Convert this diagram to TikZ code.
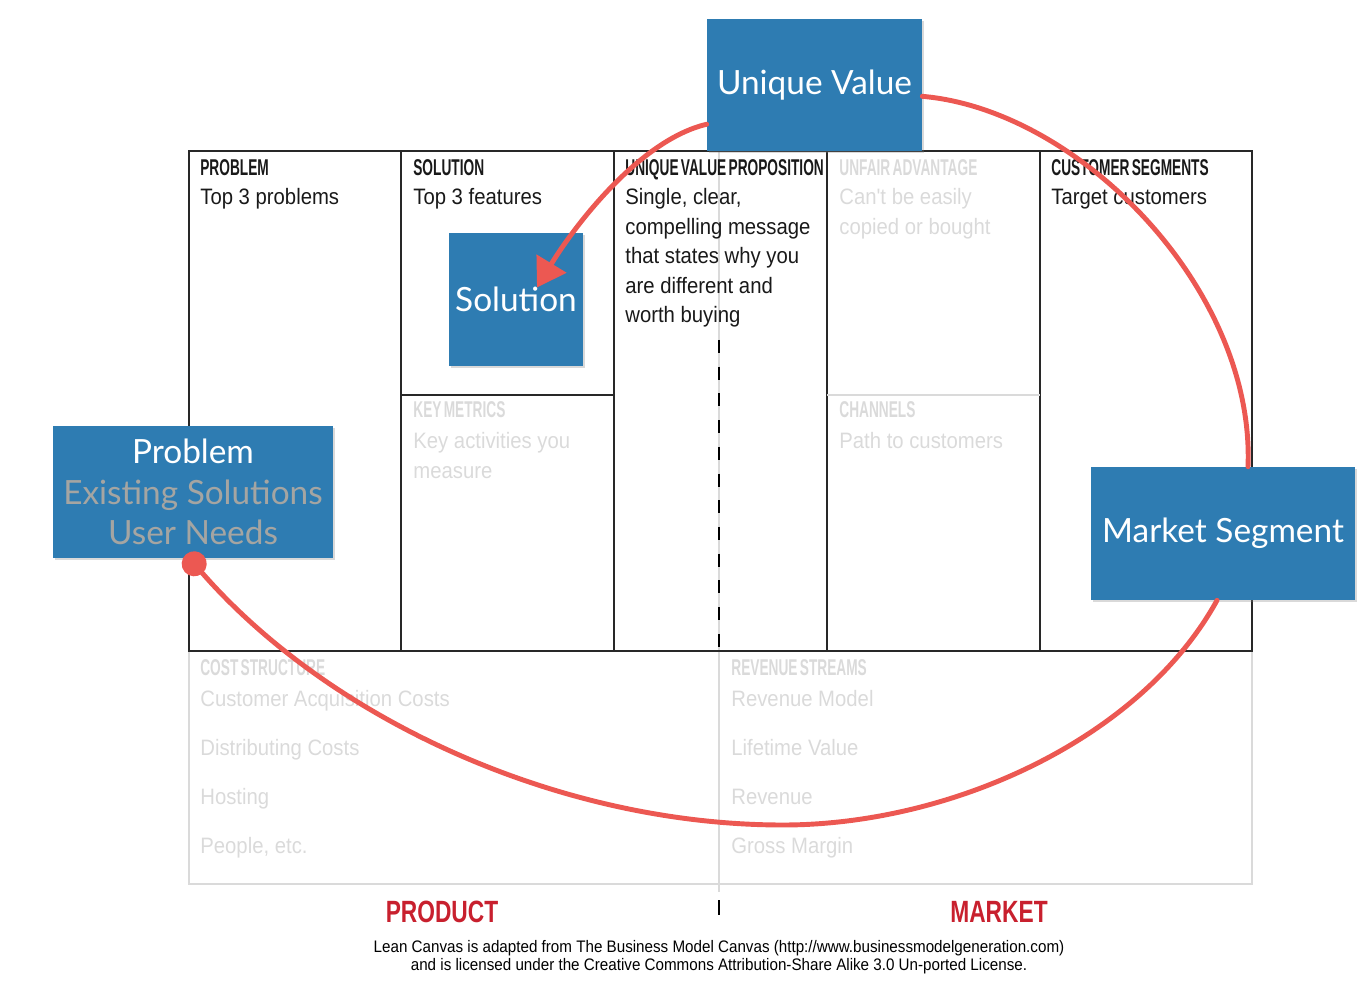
\documentclass[tikz,border=0pt]{standalone}
\usepackage{fontspec}
\setmainfont{Liberation Sans}
\newfontfamily\headfont[FakeStretch=0.6,WordSpace=0.6]{Liberation Sans}
\newfontfamily\bodyfont[FakeStretch=0.91]{Liberation Sans}
\newfontfamily\tagfont[FakeStretch=0.74]{Liberation Sans}
\newfontfamily\cardfont{Lato}
\usetikzlibrary{positioning,arrows.meta,calc,shadows}

\definecolor{cardblue}{RGB}{46,124,178}
\definecolor{scribble}{RGB}{236,88,82}
\definecolor{faded}{RGB}{218,218,218}
\definecolor{cardgrey}{RGB}{165,165,162}
\definecolor{tagred}{RGB}{200,32,46}
\definecolor{rule}{RGB}{40,40,40}

\begin{document}
\begin{tikzpicture}[x=0.02cm,y=-0.02cm]
    \tikzstyle{head}=[anchor=base west,inner sep=0pt,font=\headfont\bfseries\fontsize{13}{14}\selectfont,text=black!90]
    \tikzstyle{dim head}=[head,text=faded]
    \tikzstyle{body}=[anchor=base west,inner sep=0pt,font=\bodyfont\fontsize{12.7}{15}\selectfont,text=black!90]
    \tikzstyle{dim body}=[body,text=faded]
    \tikzstyle{card}=[rectangle,fill=cardblue,inner sep=0pt,text=white,align=center,
        font=\cardfont\fontsize{19}{23}\selectfont,
        drop shadow={opacity=0.3,shadow xshift=1pt,shadow yshift=-1pt}]
    \tikzstyle{tag}=[inner sep=0pt,text=tagred,font=\tagfont\bfseries\fontsize{17.5}{18}\selectfont]
    \tikzstyle{scrawl}=[draw=scribble,line width=2.8pt,line cap=round]

    \useasboundingbox (0,0) rectangle (1368,999);

    % lower band: costs and revenue
    \draw[faded,line width=1.2pt] (189,651) rectangle (1252,884);
    \draw[faded,line width=1pt] (719,151) -- (719,892);

    % upper band
    \draw[rule,line width=1.4pt] (189,151) rectangle (1252,651);
    \foreach \x in {401,614,827,1040}
        \draw[rule,line width=1pt] (\x,151) -- (\x,651);
    \draw[rule,line width=1pt] (401,395) -- (614,395);
    \draw[faded,line width=1pt] (827,395) -- (1040,395);
    \draw[black,line width=1.5pt,dash pattern=on 7.4pt off 7.8pt] (719,340) -- (719,651);
    \draw[black,line width=1.5pt] (719,900) -- (719,915);

    % headings
    \node[head] (h-problem) at (200,176) {PROBLEM};
    \node[head] (h-solution) at (413,176) {SOLUTION};
    \node[head] (h-uvp) at (625,176) {UNIQUE VALUE PROPOSITION};
    \node[dim head] (h-unfair) at (839,176) {UNFAIR ADVANTAGE};
    \node[head] (h-segments) at (1051,176) {CUSTOMER SEGMENTS};
    \node[dim head] (h-metrics) at (413,418) {KEY METRICS};
    \node[dim head] (h-channels) at (839,418) {CHANNELS};
    \node[dim head] (h-cost) at (200,675) {COST STRUCTURE};
    \node[dim head] (h-revenue) at (731,675) {REVENUE STREAMS};

    % cell texts
    \node[body] (t-problem) at (200,205) {Top 3 problems};
    \node[body] (t-solution) at (413,205) {Top 3 features};
    \foreach \t [count=\i from 0] in {{Single, clear,},{compelling message},{that states why you},{are different and},{worth buying}}
        \node[body] (t-uvp-\i) at (625,205+29.5*\i) {\t};
    \node[dim body] (t-unfair-0) at (839,205) {Can't be easily};
    \node[dim body] (t-unfair-1) at (839,235) {copied or bought};
    \node[body] (t-segments) at (1051,205) {Target customers};
    \node[dim body] (t-metrics-0) at (413,449) {Key activities you};
    \node[dim body] (t-metrics-1) at (413,479) {measure};
    \node[dim body] (t-channels) at (839,449) {Path to customers};
    \foreach \t [count=\i from 0] in {Customer Acquisition Costs,Distributing Costs,Hosting,{People, etc.}}
        \node[dim body] (t-cost-\i) at (200,706+49.3*\i) {\t};
    \foreach \t [count=\i from 0] in {Revenue Model,Lifetime Value,Revenue,Gross Margin}
        \node[dim body] (t-revenue-\i) at (731,706+49.3*\i) {\t};

    % footer
    \node[tag] (product) at (442,912) {PRODUCT};
    \node[tag] (market) at (999,912) {MARKET};
    \node[align=center,inner sep=0pt,font=\bodyfont\fontsize{9.5}{10.3}\selectfont] (credit) at (719,957)
        {Lean Canvas is adapted from The Business Model Canvas (http://www.businessmodelgeneration.com)\\
         and is licensed under the Creative Commons Attribution-Share Alike 3.0 Un-ported License.};

    % blue cards
    \node[card,minimum width=4.3cm,minimum height=2.64cm] (uv) at (814.5,85) {Unique Value};
    \node[card,minimum width=2.68cm,minimum height=2.66cm] (sol) at (516,299.5) {Solution};
    \node[card,minimum width=5.6cm,minimum height=2.64cm] (pb) at (193,492)
        {Problem\\\textcolor{cardgrey}{Existing Solutions}\\\textcolor{cardgrey}{User Needs}};
    \node[card,minimum width=5.28cm,minimum height=2.66cm] (ms) at (1223,533.5) {Market Segment};

    % red loop
    \draw[scrawl,-{Triangle[length=0.56cm,width=0.68cm]}] (uv.200)
        .. controls (640,140) and (575,225) .. ($(sol.center)+(21,-12)$);
    \draw[scrawl] (uv.-6) .. controls (1080,110) and (1255,290) .. ($(ms.north)+(25,0)$);
    \draw[scrawl,-{Circle[length=0.5cm]}] ($(ms.south)+(-6,0)$)
        .. controls (1140,740) and (950,825) .. (783,825)
        .. controls (560,825) and (330,720) .. ($(pb.south)+(-7,-4)$);
\end{tikzpicture}
\end{document}
